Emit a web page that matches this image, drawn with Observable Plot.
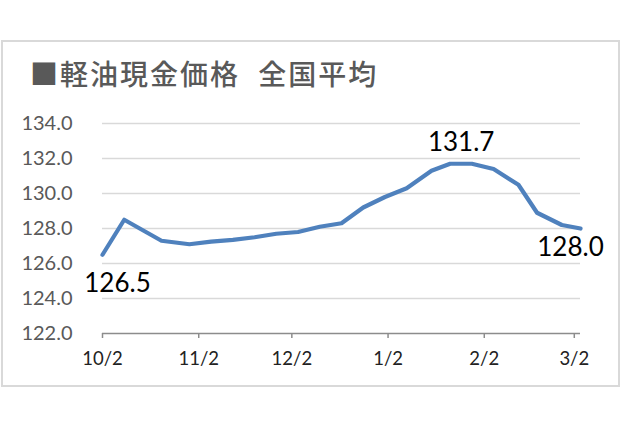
<!DOCTYPE html>
<html>
<head>
<meta charset="utf-8">
<script src="https://cdn.jsdelivr.net/npm/d3@7"></script>
<script src="https://cdn.jsdelivr.net/npm/@observablehq/plot@0.6"></script>
<style>
  html, body { margin: 0; padding: 0; background: #fff; }
  #wrap { position: relative; width: 620px; height: 426px; overflow: hidden; }
  #box { position: absolute; left: 1px; top: 40px; width: 619px; height: 347px; box-sizing: border-box; border: 2px solid #d9d9d9; }
  #title { position: absolute; left: 30px; top: 59px; font-family: "Noto Sans CJK JP", sans-serif; font-size: 28px; font-weight: 500; line-height: 1; color: #595959; white-space: pre; letter-spacing: 2px; word-spacing: 10px; }
  #chart { position: absolute; left: 0; top: 0; }
</style>
</head>
<body>
<div id="wrap">
  <div id="box"></div>
  <div id="title">■軽油現金価格 全国平均</div>
  <div id="chart"></div>
</div>
<script>
// Weekly survey dates (Oct 2019 – Mar 2020)
const dates = [
  "2019-10-02","2019-10-09","2019-10-16","2019-10-21","2019-10-30",
  "2019-11-06","2019-11-13","2019-11-20","2019-11-27",
  "2019-12-04","2019-12-11","2019-12-18","2019-12-25",
  "2020-01-01","2020-01-08","2020-01-16","2020-01-22","2020-01-29",
  "2020-02-05","2020-02-13","2020-02-19","2020-02-27","2020-03-04"
];
// 軽油現金価格 全国平均 (円/L)
const prices = [
  126.5, 128.5, 127.8, 127.3, 127.1,
  127.25, 127.35, 127.5, 127.7,
  127.8, 128.1, 128.3, 129.2,
  129.8, 130.3, 131.3, 131.7, 131.7,
  131.4, 130.5, 128.9, 128.2, 128.0
];
// x tick labels
const xTickDates = ["2019-10-02","2019-11-02","2019-12-02","2020-01-02","2020-02-02","2020-03-02"];
// y ticks
const yTicks = [122, 124, 126, 128, 130, 132, 134];
// labelled points (first, peak, last)
const labelIdx = [0, 16, 22];

const parse = d3.utcParse("%Y-%m-%d");
const data = dates.map((d, i) => ({date: parse(d), price: prices[i]}));
const xTicks = xTickDates.map(parse);
const lab = (i) => [data[i]];

const chart = Plot.plot({
  width: 620,
  height: 426,
  marginLeft: 102,
  marginRight: 40,
  marginTop: 123,
  marginBottom: 93,
  style: {fontFamily: "Lato, 'Noto Sans', sans-serif", background: "transparent", overflow: "visible"},
  x: {type: "utc", domain: [data[0].date, data[data.length - 1].date]},
  y: {domain: [122, 134]},
  marks: [
    Plot.gridY(yTicks.filter(v => v > 122), {stroke: "#d9d9d9", strokeOpacity: 1, strokeWidth: 1.5}),
    Plot.ruleY([122], {stroke: "#8c8c8c", strokeWidth: 1.5}),
    Plot.axisY({ticks: yTicks, tickSize: 0, tickPadding: 30, tickFormat: d => d.toFixed(1), fontSize: 20, fill: "#595959", label: null}),
    Plot.axisX({ticks: xTicks, tickSize: 5, tickPadding: 13, tickFormat: d3.utcFormat("%-m/%-d"), fontSize: 18.5, stroke: "#8c8c8c", strokeWidth: 1.5, fill: "#222", label: null}),
    Plot.line(data, {x: "date", y: "price", stroke: "#4f81bd", strokeWidth: 4.2, strokeLinejoin: "round", strokeLinecap: "round"}),
    Plot.text(lab(labelIdx[0]), {x: "date", y: "price", text: d => d.price.toFixed(1), dx: 15, dy: 29, fontSize: 26, fill: "#000"}),
    Plot.text(lab(labelIdx[1]), {x: "date", y: "price", text: d => d.price.toFixed(1), dx: 11, dy: -21, fontSize: 26, fill: "#000"}),
    Plot.text(lab(labelIdx[2]), {x: "date", y: "price", text: d => d.price.toFixed(1), dx: -10, dy: 19, fontSize: 26, fill: "#000"})
  ]
});
document.getElementById("chart").appendChild(chart);
</script>
</body>
</html>
